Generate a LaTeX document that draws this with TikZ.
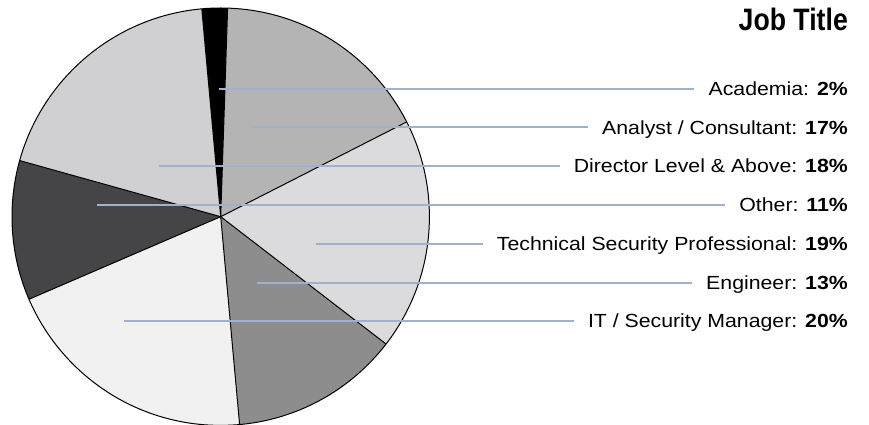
\documentclass[tikz,border=0pt]{standalone}
\usepackage{fontspec}
\setmainfont{Liberation Sans}
\usepackage{graphicx}
\definecolor{cAca}{HTML}{000000}
\definecolor{cAna}{HTML}{B4B4B5}
\definecolor{cTec}{HTML}{DBDBDD}
\definecolor{cEng}{HTML}{8D8D8D}
\definecolor{cIT}{HTML}{F1F1F1}
\definecolor{cOth}{HTML}{454547}
\definecolor{cDir}{HTML}{D0D0D2}
\definecolor{leader}{HTML}{9EB3CB}
\tikzset{
  slice/.style={draw=black, line width=1pt, line join=round},
  leaderline/.style={draw=leader, line width=2pt, shorten >=14pt},
  lbl/.style={anchor=base east, inner sep=0pt, font=\fontsize{19}{22}\selectfont},
}
\newcommand{\pieslice}[3]{%
  \fill[#3] (C) -- ++(#1:208.7pt) arc[start angle=#1, end angle=#2, radius=208.7pt] -- cycle;}
\begin{document}
\begin{tikzpicture}[x=1pt,y=1pt]
\useasboundingbox (0,0) rectangle (869,425);
\coordinate (C) at (220.7,208.3);
% slices
\pieslice{88.1}{95.2}{cAca}
\pieslice{27.0}{88.1}{cAna}
\pieslice{-37.6}{27.0}{cTec}
\pieslice{-84.8}{-37.6}{cEng}
\pieslice{-156.7}{-84.8}{cIT}
\pieslice{-195.6}{-156.7}{cOth}
\pieslice{95.2}{164.4}{cDir}
% edges
\foreach \a in {88.1,95.2,27.0,-37.6,-84.8,-156.7,164.4}
  \draw[slice] (C) -- ++(\a:208.7pt);
\draw[slice] (C) circle[radius=208.7pt];
% title
\node[anchor=base east, inner sep=0pt, font=\fontsize{31}{34}\selectfont\bfseries] (title) at (848,394) {\scalebox{0.86}[1]{Job Title}};
% labels
\node[lbl] (aca) at (848,329.3) {\scalebox{1.12}[1]{Academia: \textbf{2\%}}};
\node[lbl] (ana) at (848,290.8) {\scalebox{1.12}[1]{Analyst / Consultant: \textbf{17\%}}};
\node[lbl] (dir) at (848,252.3) {\scalebox{1.12}[1]{Director Level \& Above: \textbf{18\%}}};
\node[lbl] (oth) at (848,213.3) {\scalebox{1.12}[1]{Other: \textbf{11\%}}};
\node[lbl] (tec) at (848,174.3) {\scalebox{1.12}[1]{Technical Security Professional: \textbf{19\%}}};
\node[lbl] (eng) at (848,135.6) {\scalebox{1.12}[1]{Engineer: \textbf{13\%}}};
\node[lbl] (itm) at (848,97.3) {\scalebox{1.12}[1]{IT / Security Manager: \textbf{20\%}}};
% leader starts
\coordinate (sAca) at (219.3,336.0);
\coordinate (sAna) at (251.3,297.6);
\coordinate (sDir) at (159.0,259.1);
\coordinate (sOth) at (97.3,220.1);
\coordinate (sTec) at (316.3,181.1);
\coordinate (sEng) at (257.0,142.4);
\coordinate (sItm) at (124.3,104.1);
\draw[leaderline] (sAca) -- (sAca -| aca.west);
\draw[leaderline] (sAna) -- (sAna -| ana.west);
\draw[leaderline] (sDir) -- (sDir -| dir.west);
\draw[leaderline] (sOth) -- (sOth -| oth.west);
\draw[leaderline] (sTec) -- (sTec -| tec.west);
\draw[leaderline] (sEng) -- (sEng -| eng.west);
\draw[leaderline] (sItm) -- (sItm -| itm.west);
\end{tikzpicture}
\end{document}
